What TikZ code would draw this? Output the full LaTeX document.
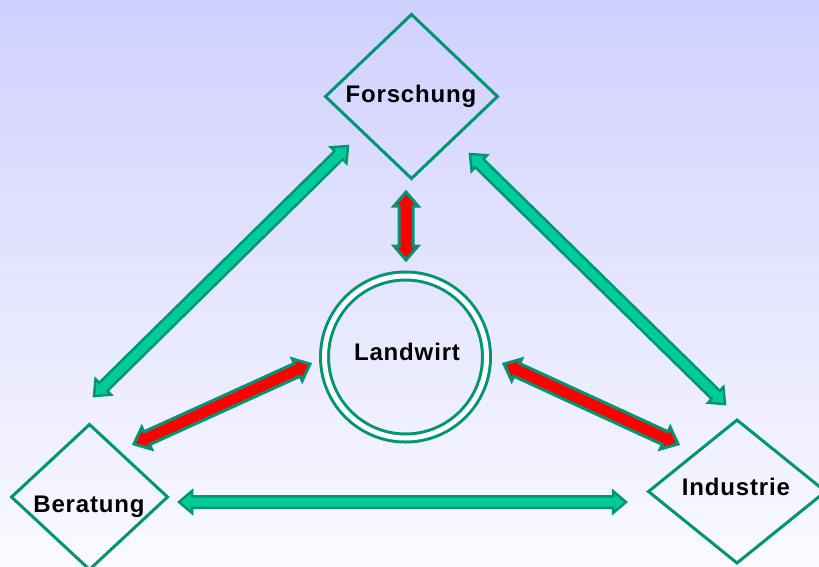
\documentclass[tikz,border=0pt]{standalone}
\usepackage{fontspec}
\setmainfont{Liberation Sans}
\usetikzlibrary{shapes.geometric,calc}
\definecolor{bgtop}{RGB}{208,208,255}
\definecolor{bgbot}{RGB}{250,250,255}
\definecolor{dkgreen}{RGB}{0,150,115}
\definecolor{ltgreen}{RGB}{0,204,153}
\definecolor{arrred}{RGB}{255,0,0}
% #1 tip A, #2 tip B, #3 shaft half width, #4 head half width, #5 head length, #6 style
\newcommand\blockarrow[6]{%
  \draw[#6] (#1)
    -- ($(#1)!#5!(#2)!#4!90:(#2)$)
    -- ($(#1)!#5!(#2)!#3!90:(#2)$)
    -- ($(#2)!#5!(#1)!#3!-90:(#1)$)
    -- ($(#2)!#5!(#1)!#4!-90:(#1)$)
    -- (#2)
    -- ($(#2)!#5!(#1)!#4!90:(#1)$)
    -- ($(#2)!#5!(#1)!#3!90:(#1)$)
    -- ($(#1)!#5!(#2)!#3!-90:(#2)$)
    -- ($(#1)!#5!(#2)!#4!-90:(#2)$)
    -- cycle;}
\begin{document}
\begin{tikzpicture}[x=1pt,y=-1pt,
  box/.style={shape=diamond,draw=dkgreen,line width=3pt,inner sep=0pt,outer sep=0pt},
  hub/.style={shape=circle,draw=dkgreen,line width=3pt,double=white,double distance=5pt,inner sep=0pt,minimum size=162pt},
  lbl/.style={anchor=base,font=\fontsize{24}{28}\selectfont\bfseries\addfontfeature{LetterSpace=3.5}},
  garrow/.style={draw=dkgreen,fill=ltgreen,line width=2.5pt,line join=miter},
  rarrow/.style={draw=dkgreen,fill=arrred,line width=3pt,line join=miter}]
\useasboundingbox (0,0) rectangle (819,566);
\shade[top color=bgtop,bottom color=bgbot] (0,0) rectangle (819,566);
% nodes
\node[box,minimum width=172pt,minimum height=164pt] (F) at (411.5,96.5) {};
\node[box,minimum width=156pt,minimum height=145pt] (B) at (89.5,497) {};
\node[box,minimum width=177pt,minimum height=143pt] (I) at (737,491.5) {};
\node[hub] (L) at (405.5,357) {};
\node[lbl] (Ft) at (411,102) {Forschung};
\node[lbl] (Bt) at (89,512) {Beratung};
\node[lbl] (It) at (736,495) {Industrie};
\node[lbl] (Lt) at (407,360) {Landwirt};
% arrow tips
\coordinate (fb1) at (348,146);
\coordinate (fb2) at (94,396);
\coordinate (fi1) at (470,154);
\coordinate (fi2) at (725,404);
\coordinate (bi1) at (179,502);
\coordinate (bi2) at (626,502);
\coordinate (fl1) at (406,192);
\coordinate (fl2) at (406,260);
\coordinate (lb1) at (310,364);
\coordinate (lb2) at (134,444);
\coordinate (li1) at (504,364);
\coordinate (li2) at (678,444);
% green arrows
\blockarrow{fb1}{fb2}{5.75pt}{11pt}{13pt}{garrow}
\blockarrow{fi1}{fi2}{5.75pt}{11pt}{13pt}{garrow}
\blockarrow{bi1}{bi2}{5.75pt}{11pt}{13pt}{garrow}
% red arrows
\blockarrow{fl1}{fl2}{7pt}{12pt}{14pt}{rarrow}
\blockarrow{lb1}{lb2}{7pt}{12pt}{14pt}{rarrow}
\blockarrow{li1}{li2}{7pt}{12pt}{14pt}{rarrow}
\end{tikzpicture}
\end{document}
